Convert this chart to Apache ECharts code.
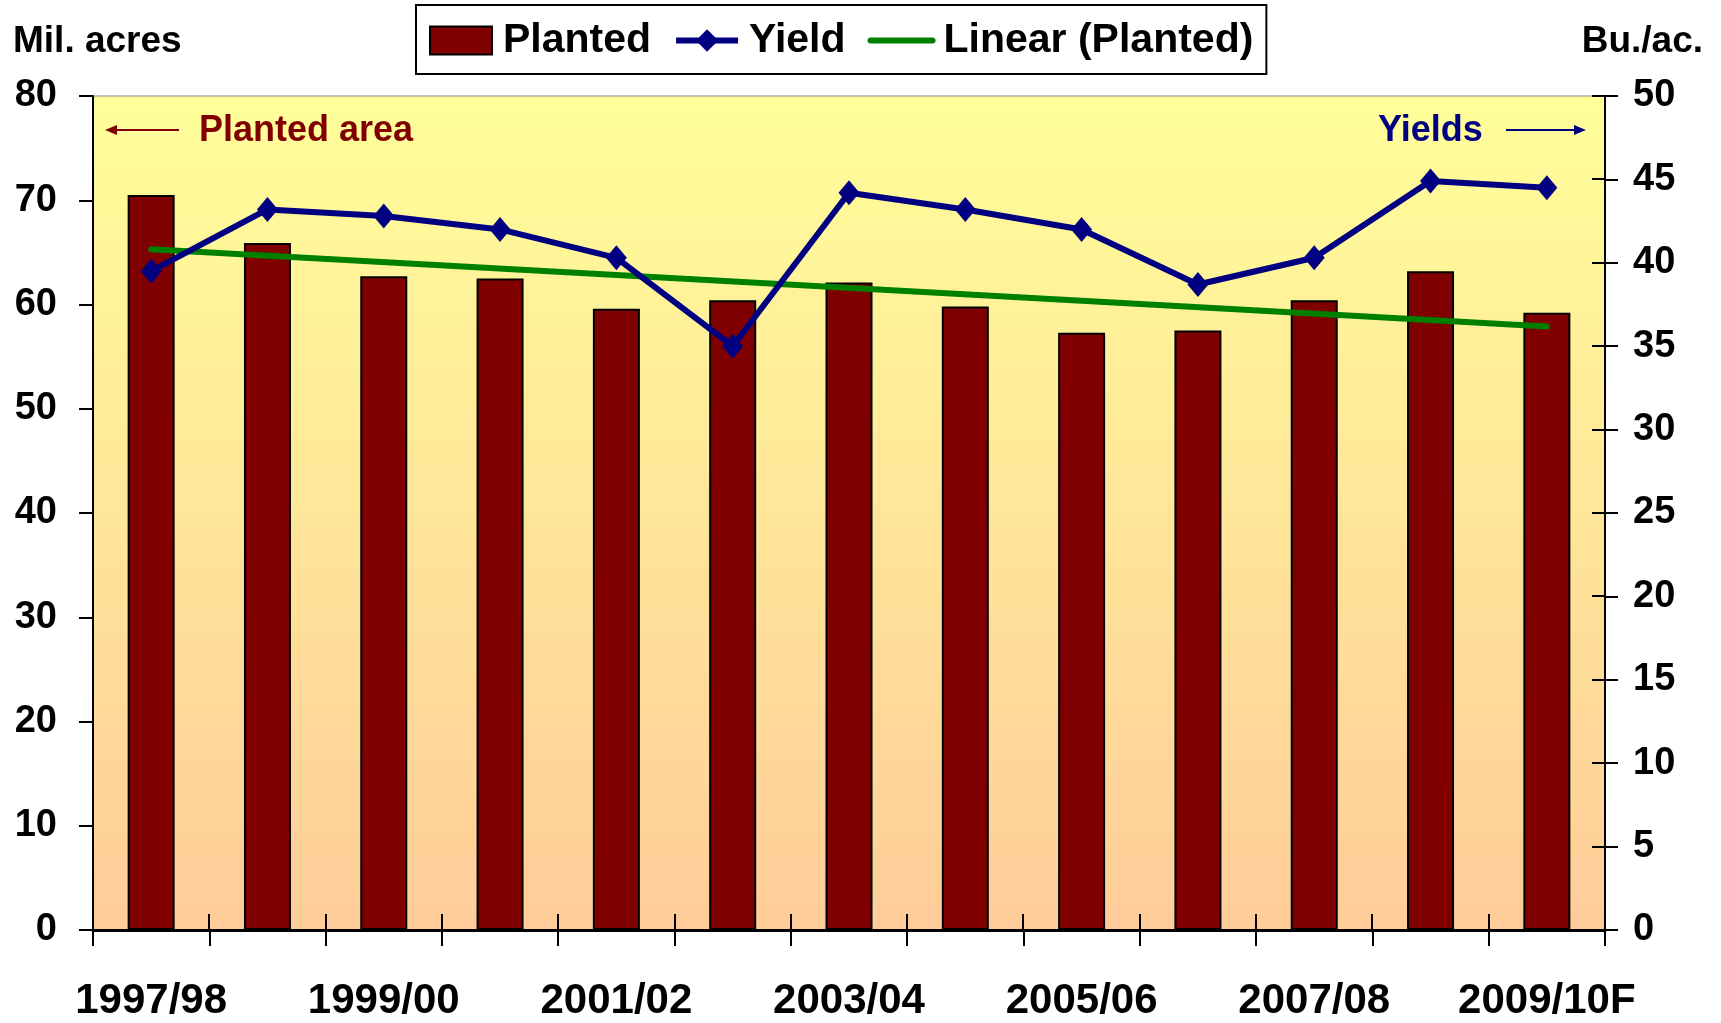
<!DOCTYPE html>
<html>
<head>
<meta charset="utf-8">
<script src="https://cdn.jsdelivr.net/npm/echarts@6/dist/echarts.min.js"></script>
<style>
  html, body { margin: 0; padding: 0; background: #fff; }
  #main { width: 1721px; height: 1023px; }
</style>
</head>
<body>
<div id="main"></div>
<script>
// 数据
var years = ['1997/98', '1998/99', '1999/00', '2000/01', '2001/02', '2002/03', '2003/04',
  '2004/05', '2005/06', '2006/07', '2007/08', '2008/09', '2009/10F']
var planted = [70.5, 65.9, 62.7, 62.5, 59.6, 60.4, 62.1, 59.8, 57.3, 57.5, 60.4, 63.2, 59.2]
var yieldVals = [39.5, 43.2, 42.8, 42.0, 40.3, 35.0, 44.2, 43.2, 42.0, 38.7, 40.3, 44.9, 44.5]
// trend line read at its two ends only
var trend = [65.3, null, null, null, null, null, null, null, null, null, null, null, 57.9]
var leftTicks = [0, 80, 10]
var rightTicks = [0, 50, 5]

var font = '"Liberation Sans", Arial, sans-serif'

// 刻度线穿过坐标轴: 轴内侧那一半
var xTickData = years.map(function (d, i) { return [i, 0] })
var rTickData = []
for (var v = rightTicks[0]; v <= rightTicks[1]; v += rightTicks[2]) rTickData.push([0, v])

var chart = echarts.init(document.getElementById('main'))

var option = {
  animation: false,
  textStyle: { fontFamily: font },
  grid: {
    left: 93, right: 116, top: 96, bottom: 93,
    show: true,
    borderColor: '#888', borderWidth: 1,
    backgroundColor: new echarts.graphic.LinearGradient(0, 0, 0, 1, [
      { offset: 0, color: '#FFFF99' },
      { offset: 1, color: '#FFCC99' }
    ])
  },
  legend: {
    left: 416, top: 5,
    padding: [15, 13, 13, 13],
    borderColor: '#000', borderWidth: 2,
    backgroundColor: '#fff',
    itemWidth: 62, itemHeight: 28, itemGap: 22,
    textStyle: { fontFamily: font, fontSize: 41, fontWeight: 'bold', color: '#000', padding: [0, 0, 0, 6] },
    data: [
      { name: 'Planted', icon: 'rect' },
      { name: 'Yield', lineStyle: { width: 6 } },
      { name: 'Linear (Planted)', lineStyle: { width: 6 }, itemStyle: { opacity: 0 } }
    ]
  },
  xAxis: {
    type: 'category',
    data: years,
    axisLine: { lineStyle: { color: '#000', width: 3 } },
    axisTick: { show: true, interval: 0, length: 16, lineStyle: { color: '#000', width: 2 } },
    axisLabel: { interval: 1, margin: 50, fontFamily: font, fontSize: 42, fontWeight: 'bold', color: '#000' },
    splitLine: { show: false }
  },
  yAxis: [{
    type: 'value',
    position: 'left',
    min: leftTicks[0], max: leftTicks[1], interval: leftTicks[2],
    axisLine: { show: true, lineStyle: { color: '#000', width: 2 } },
    axisTick: { show: true, length: 14, lineStyle: { color: '#000', width: 2 } },
    axisLabel: { margin: 36, fontFamily: font, fontSize: 38, fontWeight: 'bold', color: '#000' },
    splitLine: { show: false }
  }, {
    type: 'value',
    position: 'right',
    min: rightTicks[0], max: rightTicks[1], interval: rightTicks[2],
    axisLine: { show: true, lineStyle: { color: '#000', width: 2 } },
    axisTick: { show: true, length: 13, lineStyle: { color: '#000', width: 2 } },
    axisLabel: { margin: 28, fontFamily: font, fontSize: 38, fontWeight: 'bold', color: '#000' },
    splitLine: { show: false }
  }],
  series: [{
    name: 'Planted',
    type: 'bar',
    yAxisIndex: 0,
    barWidth: 47,
    data: planted,
    itemStyle: { color: '#800000', borderColor: '#000', borderWidth: 2 }
  }, {
    name: 'Yield',
    type: 'line',
    yAxisIndex: 1,
    data: yieldVals,
    symbol: 'diamond',
    symbolSize: [21, 25],
    lineStyle: { color: '#000080', width: 6 },
    itemStyle: { color: '#000080' },
    z: 4
  }, {
    name: 'Linear (Planted)',
    type: 'line',
    yAxisIndex: 0,
    data: trend,
    connectNulls: true,
    showSymbol: false,
    symbol: 'none',
    lineStyle: { color: '#008000', width: 6, cap: 'round' },
    itemStyle: { color: '#008000' },
    z: 3
  }, {
    // x 轴刻度的上半段
    type: 'custom',
    xAxisIndex: 0, yAxisIndex: 0,
    silent: true, clip: false, z: 10,
    data: xTickData,
    renderItem: function (params, api) {
      var p = api.coord([api.value(0), 0])
      var w = api.size([1, 0])[0]
      var x = Math.round(p[0] + w / 2)
      return { type: 'line', shape: { x1: x, y1: p[1] - 16, x2: x, y2: p[1] }, style: { stroke: '#000', lineWidth: 2 } }
    }
  }, {
    // 右轴刻度的内侧半段
    type: 'custom',
    xAxisIndex: 0, yAxisIndex: 1,
    silent: true, clip: false, z: 10,
    data: rTickData,
    renderItem: function (params, api) {
      var xr = params.coordSys.x + params.coordSys.width
      var y = Math.round(api.coord([0, api.value(1)])[1])
      return { type: 'line', shape: { x1: xr - 13, y1: y, x2: xr, y2: y }, style: { stroke: '#000', lineWidth: 2 } }
    }
  }],
  graphic: [
    { type: 'text', left: 13, top: 23, style: { text: 'Mil. acres', fontFamily: font, fontSize: 37, fontWeight: 'bold', fill: '#000' } },
    { type: 'text', right: 18, top: 23, style: { text: 'Bu./ac.', fontFamily: font, fontSize: 37, fontWeight: 'bold', fill: '#000' } },
    // Planted area ←
    { type: 'line', shape: { x1: 112, y1: 130, x2: 179, y2: 130 }, style: { stroke: '#800000', lineWidth: 2 } },
    { type: 'polygon', shape: { points: [[105, 130], [117, 125], [117, 135]] }, style: { fill: '#800000' } },
    { type: 'text', left: 199, top: 113, style: { text: 'Planted area', fontFamily: font, fontSize: 36, fontWeight: 'bold', fill: '#800000' } },
    // Yields →
    { type: 'text', left: 1378, top: 113, style: { text: 'Yields', fontFamily: font, fontSize: 36, fontWeight: 'bold', fill: '#000080' } },
    { type: 'line', shape: { x1: 1506, y1: 130, x2: 1578, y2: 130 }, style: { stroke: '#000080', lineWidth: 2 } },
    { type: 'polygon', shape: { points: [[1586, 130], [1574, 125], [1574, 135]] }, style: { fill: '#000080' } }
  ]
}

chart.setOption(option)
</script>
</body>
</html>
